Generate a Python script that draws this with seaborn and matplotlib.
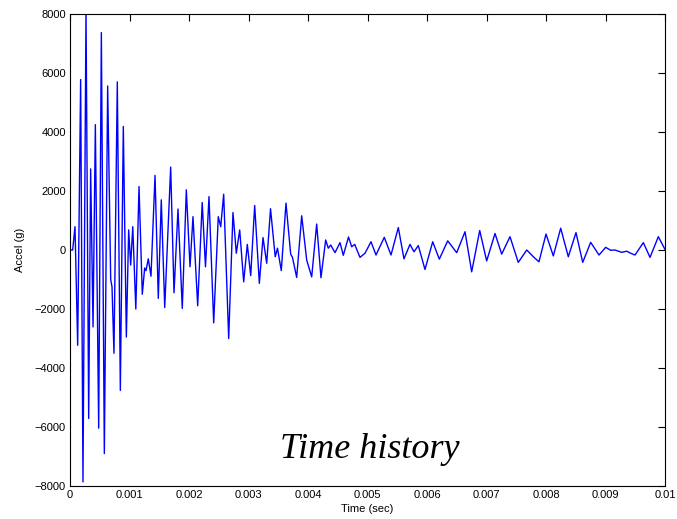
import matplotlib
matplotlib.use("Agg")
import matplotlib.pyplot as plt
import seaborn as sns
import pandas as pd

# Acceleration time history: sample times (s) and acceleration (g)
time_s = [
    0.0, 0.000045, 0.000084, 0.000129, 0.000179, 0.000218, 0.000269, 0.000314,
    0.000347, 0.000387, 0.000426, 0.000482, 0.000527, 0.000577, 0.000633, 0.000684,
    0.000706, 0.000739, 0.000795, 0.000846, 0.000896, 0.000947, 0.000986, 0.001020,
    0.001055, 0.001106, 0.001160, 0.001215, 0.001255, 0.001277, 0.001316, 0.001361,
    0.001429, 0.001484, 0.001534, 0.001592, 0.001692, 0.001748, 0.001815, 0.001887,
    0.001955, 0.002017, 0.002067, 0.002146, 0.002222, 0.002277, 0.002336, 0.002415,
    0.002492, 0.002533, 0.002583, 0.002667, 0.002739, 0.002795, 0.002852, 0.002919,
    0.002980, 0.003037, 0.003104, 0.003182, 0.003244, 0.003306, 0.003370, 0.003449,
    0.003487, 0.003551, 0.003630, 0.003709, 0.003739, 0.003810, 0.003894, 0.003978,
    0.004062, 0.004146, 0.004218, 0.004297, 0.004341, 0.004382, 0.004454, 0.004538,
    0.004593, 0.004681, 0.004734, 0.004785, 0.004874, 0.004958, 0.005059, 0.005143,
    0.005282, 0.005395, 0.005518, 0.005613, 0.005714, 0.005782, 0.005854, 0.005966,
    0.006096, 0.006207, 0.006348, 0.006499, 0.006639, 0.006751, 0.006886, 0.007003,
    0.007143, 0.007255, 0.007395, 0.007534, 0.007676, 0.007798, 0.007882, 0.008000,
    0.008123, 0.008247, 0.008375, 0.008504, 0.008617, 0.008751, 0.008891, 0.009003,
    0.009087, 0.009160, 0.009272, 0.009356, 0.009424, 0.009496, 0.009636, 0.009748,
    0.009888, 0.010000,
]
accel_g = [
    0, 0, 790, -3230, 5780, -7860, 8150, -5710,
    2750, -2610, 4250, -6040, 7370, -6900, 5560, -1000,
    -1250, -3500, 5700, -4760, 4190, -2950, 680, -510,
    790, -2000, 2150, -1500, -610, -700, -300, -890,
    2530, -1640, 1700, -1950, 2810, -1450, 1390, -1980,
    2040, -570, 1130, -1890, 1610, -570, 1810, -2470,
    1130, 790, 1890, -3000, 1270, -110, 680, -1080,
    190, -870, 1510, -1130, 420, -450, 1400, -230,
    60, -700, 1590, -140, -250, -930, 1160, -340,
    -910, 880, -940, 340, 60, 170, -90, 250,
    -180, 440, 110, 190, -250, -110, 280, -170,
    430, -170, 760, -300, 190, -60, 150, -660,
    280, -310, 310, -90, 620, -740, 660, -370,
    560, -140, 450, -420, 0, -250, -400, 540,
    -200, 740, -230, 590, -420, 260, -170, 90,
    -10, 0, -80, -40, -110, -170, 250, -250,
    450, 20,
]

x_ticks = [0, 0.001, 0.002, 0.003, 0.004, 0.005, 0.006, 0.007, 0.008, 0.009, 0.01]
x_tick_labels = ["0", "0.001", "0.002", "0.003", "0.004", "0.005",
                 "0.006", "0.007", "0.008", "0.009", "0.01"]
y_ticks = [-8000, -6000, -4000, -2000, 0, 2000, 4000, 6000, 8000]

df = pd.DataFrame({"Time (sec)": time_s, "Accel (g)": accel_g})

sns.set_style("white")
plt.rcParams["font.family"] = ["Liberation Sans", "DejaVu Sans"]
plt.rcParams["axes.unicode_minus"] = True
plt.rcParams["text.color"] = "black"
plt.rcParams["axes.labelcolor"] = "black"

fig = plt.figure(figsize=(6.77, 5.19), dpi=100)
ax = fig.add_axes([70 / 677, 33 / 519, 595 / 677, 472 / 519])

sns.lineplot(data=df, x="Time (sec)", y="Accel (g)", ax=ax, sort=False,
             estimator=None, color="#0000ff", linewidth=1.0)

ax.set_xlim(0, 0.01)
ax.set_ylim(-8000, 8000)
ax.set_xticks(x_ticks)
ax.set_xticklabels(x_tick_labels)
ax.set_yticks(y_ticks)
ax.tick_params(direction="in", top=True, right=True, length=5, width=0.8,
               labelsize=8, colors="black", pad=3)
for side in ax.spines.values():
    side.set_visible(True)
    side.set_color("black")
    side.set_linewidth(0.8)

ax.set_xlabel("Time (sec)", fontsize=8, labelpad=3, color="black")
ax.set_ylabel("Accel (g)", fontsize=8, labelpad=7, color="black")

ax.text(0.504, 0.059, "Time history", transform=ax.transAxes, ha="center",
        va="baseline", fontsize=26, style="italic", color="black",
        family=["Liberation Serif", "DejaVu Serif"])

fig.savefig("out.png", dpi=100)
